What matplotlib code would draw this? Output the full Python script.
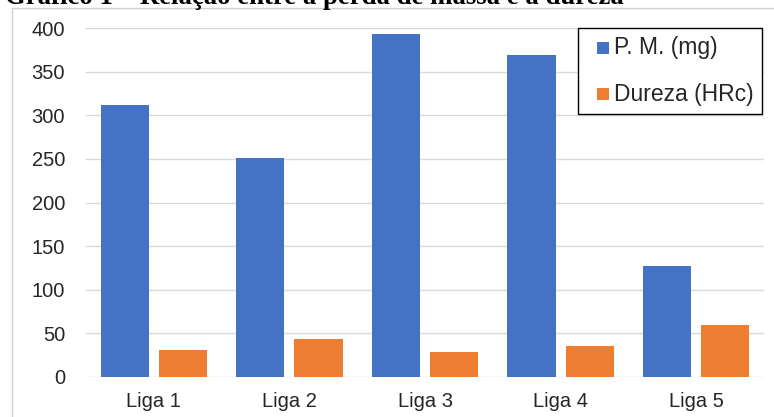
import matplotlib
matplotlib.use("Agg")
import matplotlib.pyplot as plt
import numpy as np
from matplotlib.lines import Line2D
from matplotlib.patches import Rectangle
from matplotlib.legend_handler import HandlerPatch

categories = ["Liga 1", "Liga 2", "Liga 3", "Liga 4", "Liga 5"]
pm_mg = [312, 251, 393, 369, 127]
dureza_hrc = [31, 43, 28, 35, 59]
yticks = [0, 50, 100, 150, 200, 250, 300, 350, 400]
title = "Gráfico 1 – Relação entre a perda de massa e a dureza"

W, H = 774, 417
fig = plt.figure(figsize=(W / 100, H / 100), dpi=100)
ax = fig.add_axes([86 / W, (H - 376.7) / H, (764 - 86) / W, (376.7 - 28.3) / H])

x = np.arange(len(categories))
bw = 0.355
off = 0.215
b1 = ax.bar(x - off, pm_mg, bw, color="#4472C4", label="P. M. (mg)", zorder=3)
b2 = ax.bar(x + off, dureza_hrc, bw, color="#ED7D31", label="Dureza (HRc)", zorder=3)

ax.set_xlim(-0.5, len(categories) - 0.5)
ax.set_ylim(0, 400)
ax.set_yticks(yticks)
ax.set_xticks(x)
ax.set_xticklabels(categories)
ax.grid(axis="y", color="#D9D9D9", linewidth=1, zorder=0)
for s in ax.spines.values():
    s.set_visible(False)
ax.tick_params(axis="both", length=0, labelsize=14.5, labelcolor="#262626")
ax.tick_params(axis="y", pad=15)
ax.tick_params(axis="x", pad=11)
for lab in ax.get_xticklabels() + ax.get_yticklabels():
    lab.set_fontfamily("Liberation Sans")


def square_right(legend, orig_handle, xdescent, ydescent, width, height, fontsize):
    s = 12 * 72 / 100  # square side in points
    return Rectangle((width - xdescent - s, -ydescent + (height - s) / 2 - 1), s, s)


hm = {b: HandlerPatch(patch_func=square_right) for b in (b1.patches[0], b2.patches[0])}
leg = ax.legend(handles=[b1.patches[0], b2.patches[0]], labels=["P. M. (mg)", "Dureza (HRc)"],
                handler_map=hm, loc="upper right",
                bbox_to_anchor=(762 / W, (H - 28) / H), bbox_transform=fig.transFigure,
                borderaxespad=0, fancybox=False, edgecolor="black",
                prop={"family": "Liberation Sans", "size": 16.5},
                handlelength=1.0, handleheight=0.52, handletextpad=0.22,
                labelspacing=1.03, borderpad=0.36, framealpha=1)
leg.get_frame().set_linewidth(1)
for t in leg.get_texts():
    t.set_color("#262626")

# chart frame (outer border)
fig.add_artist(Line2D([12 / W, 12 / W], [0, (H - 7.5) / H], transform=fig.transFigure,
                      color="#D0D0D0", linewidth=1))
fig.add_artist(Line2D([12 / W, 1], [(H - 7.5) / H, (H - 7.5) / H], transform=fig.transFigure,
                      color="#D0D0D0", linewidth=1))

fig.text(5 / W, (H - 4) / H, title, fontfamily="Liberation Serif", fontweight="bold",
         fontsize=19.3, va="baseline", ha="left", color="black")

fig.savefig("out.png", dpi=100)
